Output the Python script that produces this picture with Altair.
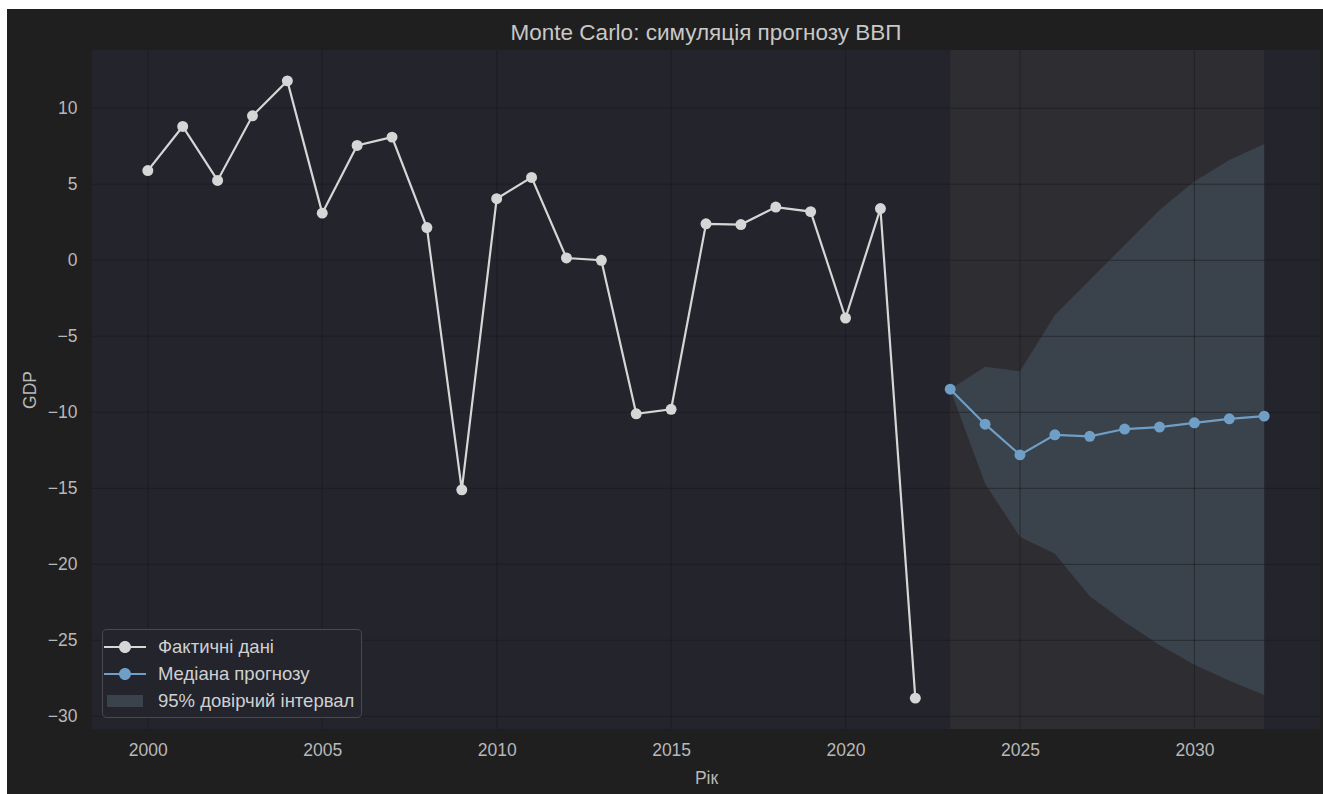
import altair as alt
import pandas as pd

# ---------------- data ----------------
years_hist = [2000, 2001, 2002, 2003, 2004, 2005, 2006, 2007, 2008, 2009, 2010, 2011,
              2012, 2013, 2014, 2015, 2016, 2017, 2018, 2019, 2020, 2021, 2022]
gdp_hist = [5.9, 8.8, 5.25, 9.5, 11.8, 3.1, 7.55, 8.1, 2.15, -15.1, 4.05, 5.45,
            0.15, 0.0, -10.1, -9.8, 2.4, 2.35, 3.5, 3.2, -3.8, 3.4, -28.8]

years_fc = [2023, 2024, 2025, 2026, 2027, 2028, 2029, 2030, 2031, 2032]
median_fc = [-8.48, -10.78, -12.8, -11.48, -11.58, -11.1, -10.97, -10.69, -10.43, -10.25]
lower_fc = [-8.48, -14.7, -18.2, -19.3, -22.1, -23.8, -25.3, -26.6, -27.65, -28.6]
upper_fc = [-8.48, -7.0, -7.3, -3.6, -1.3, 1.0, 3.3, 5.2, 6.6, 7.65]

span_start = [2023]
span_end = [2032]

x_ticks = [2000, 2005, 2010, 2015, 2020, 2025, 2030]
y_ticks = [-30, -25, -20, -15, -10, -5, 0, 5, 10]

legend_labels = ["Фактичні дані", "Медіана прогнозу", "95% довірчий інтервал"]

title_text = "Monte Carlo: симуляція прогнозу ВВП"
x_title = "Рік"
y_title = "GDP"

# ---------------- style ----------------
W, H = 1228, 679
XMIN, XMAX = 1998.4, 2033.6
YMIN, YMAX = -30.83, 13.83
FONT = "Liberation Sans"

OUTER = "#1f1f1f"
PLOT_BG = "#23242c"
SPAN = "#2e2d32"
BAND = "#3a424b"
GRID = "#18191d"
HIST = "#d6d6d6"
FC = "#6f9fc6"
TEXT = "#b8b8b8"

# legend symbols (unit box = 24 px; paths reach beyond it horizontally)
line_circle = ("M-1.75,-0.092H-0.45V0.092H-1.75Z M0.45,-0.092H1.75V0.092H0.45Z "
               "M0.5,0A0.5,0.5 0 1,1 -0.5,0A0.5,0.5 0 1,1 0.5,0Z")
rect_sym = "M-1.5,-0.5H1.5V0.5H-1.5Z"

hist_df = pd.DataFrame({"year": years_hist, "gdp": gdp_hist, "series": legend_labels[0]})
fc_df = pd.DataFrame({"year": years_fc, "median": median_fc, "lower": lower_fc, "upper": upper_fc})
span_df = pd.DataFrame({"start": span_start, "end": span_end})
xg_df = pd.DataFrame({"v": x_ticks})
yg_df = pd.DataFrame({"v": y_ticks})
one = pd.DataFrame({"a": [0]})

xs = alt.Scale(domain=[XMIN, XMAX], nice=False, zero=False)
ys = alt.Scale(domain=[YMIN, YMAX], nice=False, zero=False)

x_axis = alt.Axis(values=x_ticks, format="d", grid=False, ticks=False, domain=False,
                  labelFont=FONT, labelFontSize=17.5, labelColor=TEXT, labelPadding=12,
                  title=x_title, titleFont=FONT, titleFontSize=17.5, titleColor=TEXT,
                  titleFontWeight="normal", titlePadding=11, zindex=2)
y_axis = alt.Axis(values=y_ticks, format="d", grid=False, ticks=False, domain=False,
                  labelFont=FONT, labelFontSize=17.5, labelColor=TEXT, labelPadding=15,
                  title=y_title, titleFont=FONT, titleFontSize=17.5, titleColor=TEXT,
                  titleFontWeight="normal", titlePadding=8, zindex=2)

frame = alt.Chart(one).mark_rect(color=OUTER).encode(
    x=alt.value(-85), x2=alt.value(W + 3), y=alt.value(-41), y2=alt.value(H + 65))
plot_bg = alt.Chart(one).mark_rect(color=PLOT_BG).encode(
    x=alt.value(0), x2=alt.value(W), y=alt.value(0), y2=alt.value(H))

span = alt.Chart(span_df).mark_rect(color=SPAN).encode(
    x=alt.X("start:Q", scale=xs, axis=x_axis), x2="end:Q",
    y=alt.value(0), y2=alt.value(H))

band = alt.Chart(fc_df).mark_area(color=BAND, opacity=1).encode(
    x=alt.X("year:Q", scale=xs),
    y=alt.Y("lower:Q", scale=ys, axis=y_axis), y2="upper:Q")

xgrid = alt.Chart(xg_df).mark_rule(color=GRID, strokeWidth=1, opacity=0.55).encode(
    x=alt.X("v:Q", scale=xs), y=alt.value(0), y2=alt.value(H))
ygrid = alt.Chart(yg_df).mark_rule(color=GRID, strokeWidth=1, opacity=0.55).encode(
    y=alt.Y("v:Q", scale=ys), x=alt.value(0), x2=alt.value(W))

hist_line = alt.Chart(hist_df).mark_line(color=HIST, strokeWidth=2.2).encode(
    x=alt.X("year:Q", scale=xs), y=alt.Y("gdp:Q", scale=ys))
hist_pts = alt.Chart(hist_df).mark_circle(color=HIST, size=120, opacity=1).encode(
    x=alt.X("year:Q", scale=xs), y=alt.Y("gdp:Q", scale=ys))

fc_line = alt.Chart(fc_df).mark_line(color=FC, strokeWidth=2.2).encode(
    x=alt.X("year:Q", scale=xs), y=alt.Y("median:Q", scale=ys))
fc_pts = alt.Chart(fc_df).mark_circle(color=FC, size=120, opacity=1).encode(
    x=alt.X("year:Q", scale=xs), y=alt.Y("median:Q", scale=ys))

leg = alt.Legend(orient="none", legendX=10, legendY=579, title=None,
                 fillColor="#23242c", strokeColor="#4a4a4e", cornerRadius=4, padding=6,
                 labelFont=FONT, labelFontSize=18.5, labelColor="#d0d0d0", labelLimit=0,
                 symbolSize=576, symbolStrokeWidth=0, symbolOpacity=1, symbolOffset=5,
                 rowPadding=5, labelOffset=21, zindex=3)
legend_layer = alt.Chart(hist_df).mark_point(filled=True, opacity=0).encode(
    x=alt.X("year:Q", scale=xs), y=alt.Y("gdp:Q", scale=ys),
    color=alt.Color("series:N", scale=alt.Scale(domain=legend_labels, range=[HIST, FC, BAND]), legend=leg),
    shape=alt.Shape("series:N", scale=alt.Scale(domain=legend_labels, range=[line_circle, line_circle, rect_sym]), legend=leg))

chart = alt.layer(
    frame, plot_bg, span, band, xgrid, ygrid, hist_line, hist_pts, fc_line, fc_pts, legend_layer
).properties(
    width=W, height=H,
    title=alt.TitleParams(title_text, font=FONT, fontSize=22.5, color="#c8c8c8",
                          fontWeight="normal", anchor="middle", offset=8, dy=43),
    autosize=alt.AutoSizeParams(type="none"),
    padding={"left": 92, "top": 50, "right": 3, "bottom": 65},
    background="white",
).configure_view(stroke=None)

chart.save("out.html", embed_options={"renderer": "svg", "actions": False})
